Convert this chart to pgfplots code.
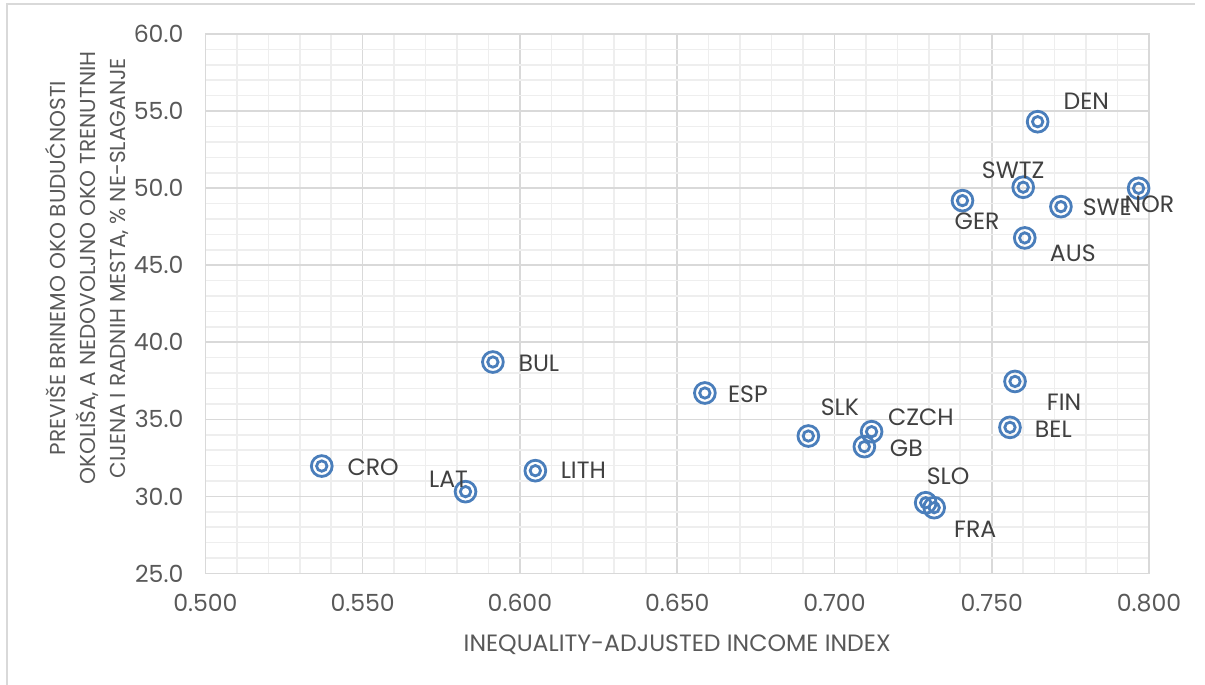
\documentclass[border=0pt]{standalone}
\usepackage{fontspec}
\setmainfont{Poppins}
\usepackage{pgfplots}
\usepackage{pgfplotstable}
\pgfplotsset{compat=1.18}
\definecolor{ptblue}{RGB}{74,126,187}
\definecolor{majgrid}{RGB}{217,217,217}
\definecolor{mingrid}{RGB}{238,238,238}
\definecolor{tickgray}{RGB}{89,89,89}
\definecolor{lblgray}{RGB}{64,64,64}
\pgfdeclareplotmark{dcirc}{%
  \pgfpathcircle{\pgfpointorigin}{\pgfplotmarksize}\pgfusepathqstroke
  \pgfpathcircle{\pgfpointorigin}{0.5\pgfplotmarksize}\pgfusepathqstroke}

% x, y, label, label offset (pt)
\pgfplotstableread{
x      y     lbl   dx    dy
0.5370 31.97 CRO   25.7  -0.5
0.5827 30.31 LAT   -8.5   6.1
0.6049 31.67 LITH  24.0   0.3
0.5914 38.72 BUL   23.0  -0.5
0.6588 36.71 ESP   21.5  -0.5
0.6917 33.92 SLK   15.8  14.2
0.7118 34.20 CZCH  24.7   7.1
0.7095 33.23 GB    21.0  -0.8
0.7290 29.59 SLO   11.2  13.2
0.7317 29.27 FRA   20.5 -11.0
0.7558 34.48 BEL   21.7  -0.9
0.7574 37.46 FIN   24.5 -10.5
0.7407 49.19 GER    7.3 -10.5
0.7600 50.06 SWTZ  -5.0   8.5
0.7646 54.31 DEN   24.3  10.0
0.7720 48.80 SWE   23.2  -0.4
0.7967 49.99 NOR    5.4  -7.8
0.7605 46.77 AUS   24.0  -7.7
}\pts

\begin{document}
\begin{tikzpicture}
\useasboundingbox (0,0) rectangle (602.5pt,342.5pt);
\draw[majgrid, line width=1pt] (3.5pt,0) -- (3.5pt,340.5pt) -- (597.5pt,340.5pt);
\begin{axis}[
    at={(102.7pt,55.75pt)}, anchor=south west,
    scale only axis, width=471.8pt, height=269.75pt,
    xmin=0.5, xmax=0.8, ymin=25, ymax=60,
    xtick={0.5,0.55,0.6,0.65,0.7,0.75,0.8},
    ytick={25,30,35,40,45,50,55,60},
    minor tick num=4,
    grid=both,
    major grid style={majgrid, line width=0.8pt},
    minor grid style={mingrid, line width=0.8pt},
    axis line style={majgrid, line width=0.8pt},
    major tick length=0pt, minor tick length=0pt,
    tick style={draw=none},
    font=\fontsize{11.8}{15}\selectfont,
    ticklabel style={text=tickgray},
    /pgf/number format/assume math mode=true,
    xticklabel style={/pgf/number format/.cd, fixed, fixed zerofill, precision=3, /tikz/.cd, yshift=-7pt},
    yticklabel style={/pgf/number format/.cd, fixed, fixed zerofill, precision=1, /tikz/.cd, xshift=-7.5pt},
    xlabel={INEQUALITY-ADJUSTED INCOME INDEX},
    xlabel style={at={(axis description cs:0.5,-0.1325)}, anchor=center, text=tickgray},
    ylabel={PREVIŠE BRINEMO OKO BUDUĆNOSTI\\OKOLIŠA, A NEDOVOLJNO OKO TRENUTNIH\\CIJENA I RADNIH MESTA, \% NE-SLAGANJE},
    ylabel style={at={(axis description cs:-0.1255,0.566)}, anchor=center, align=center, text=tickgray,
        font=\fontsize{10.8}{15.2}\selectfont},
    clip=false,
]
\addplot[only marks, mark=dcirc, mark size=5.2pt, draw=ptblue, line width=1.4pt,
    point meta=explicit symbolic,
    visualization depends on={\thisrow{dx}\as\dx},
    visualization depends on={\thisrow{dy}\as\dy},
    nodes near coords,
    nodes near coords style={anchor=center, xshift=\dx pt, yshift=\dy pt, text=lblgray, inner sep=0pt},
] table[x=x, y=y, meta=lbl] {\pts};
\end{axis}
\end{tikzpicture}
\end{document}
